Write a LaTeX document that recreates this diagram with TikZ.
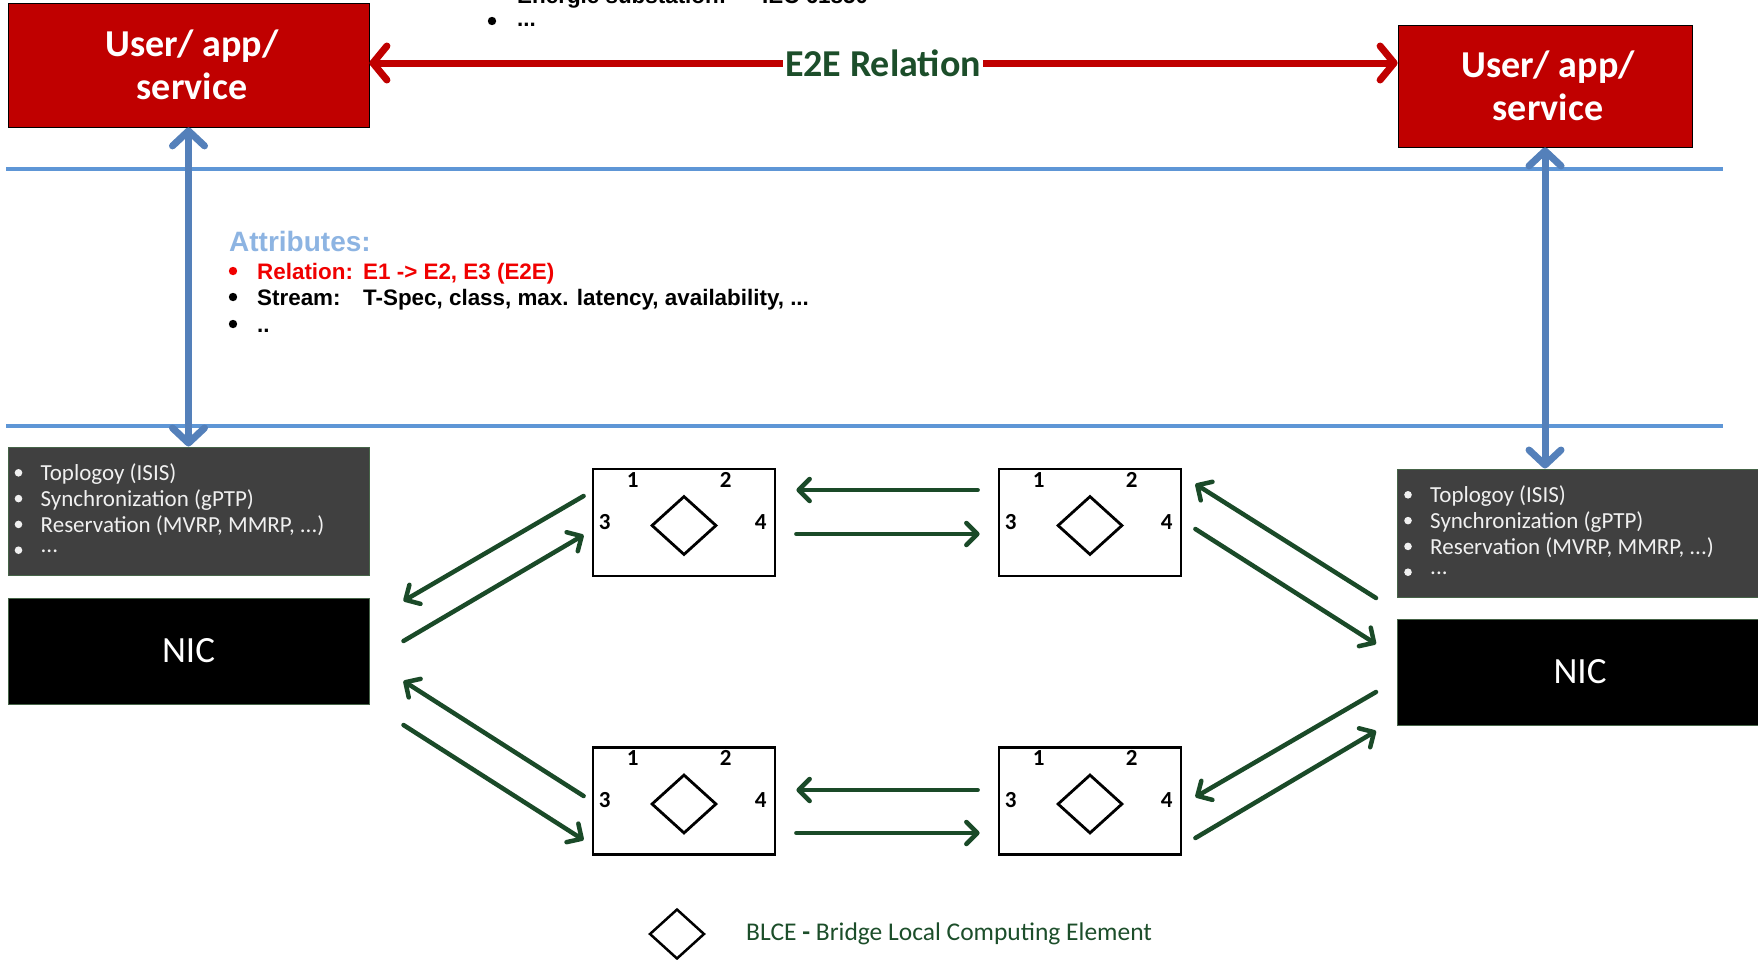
\documentclass[tikz,border=0pt]{standalone}
\usepackage{fontspec}
\setmainfont{Carlito}
\newfontfamily\arialf{Liberation Sans}
\usetikzlibrary{arrows.meta,shapes.geometric,calc}
\definecolor{appred}{RGB}{192,0,0}
\definecolor{flowgreen}{RGB}{26,74,40}
\definecolor{labgreen}{RGB}{28,78,42}
\definecolor{vblue}{RGB}{84,128,186}
\definecolor{hblue}{RGB}{94,150,214}
\definecolor{attrblue}{RGB}{141,180,226}
\definecolor{boxgray}{RGB}{64,64,64}
\definecolor{edgegreen}{RGB}{70,100,72}
\definecolor{relred}{RGB}{240,0,0}
\newcommand\tdots{...}
\begin{document}
\begin{tikzpicture}[x=1pt,y=-1pt,
  appbox/.style={draw=black,line width=0.8pt,fill=appred,text=white,font=\bfseries\fontsize{38pt}{43pt}\selectfont,align=center,inner sep=0pt},
  infobox/.style={draw=edgegreen,line width=1pt,fill=boxgray,inner sep=0pt,minimum width=361pt,minimum height=128pt},
  nicbox/.style={draw=edgegreen,line width=1pt,fill=black,text=white,font=\fontsize{37pt}{40pt}\selectfont,inner sep=0pt,minimum width=361pt,minimum height=106pt},
  bridgebox/.style={draw=black,line width=2.8pt,minimum width=182pt,minimum height=107pt,inner sep=0pt},
  blce/.style={diamond,draw=black,line width=2.8pt,minimum width=65pt,minimum height=59pt,inner sep=0pt},
  portnum/.style={font=\bfseries\fontsize{23pt}{26pt}\selectfont,inner sep=0pt},
  infotext/.style={text=white!94!black,font=\fontsize{23pt}{26pt}\selectfont,inner sep=0pt},
  attrtext/.style={font=\arialf\bfseries\fontsize{22.4pt}{26pt}\selectfont,inner sep=0pt},
  sepline/.style={draw=hblue,line width=3.2pt},
  vlink/.style={draw=vblue,line width=7pt,{Straight Barb[length=15pt,width=32pt,round]}-{Straight Barb[length=15pt,width=32pt,round]}},
  e2elink/.style={draw=appred,line width=7pt,{Straight Barb[length=14pt,width=34pt,round]}-{Straight Barb[length=14pt,width=34pt,round]}},
  flow/.style={draw=flowgreen,line width=4.5pt,line cap=round,-{Straight Barb[length=11pt,width=22pt,round]}}
]
\useasboundingbox (0,0) rectangle (1758,959);

% separator lines
\draw[sepline] (6,169) -- (1723,169);
\draw[sepline] (6,426) -- (1723,426);

% partially visible text at top
\node[attrtext,anchor=base west] (topa) at (517,3) {Energie substation:};
\node[attrtext,anchor=base west] (topb) at (762,3) {IEC 61850};
\fill[black] (492,21) circle (4.2pt);
\node[attrtext,anchor=base west] (topdots) at (517,26) {\tdots};

% application boxes
\node[appbox,minimum width=361pt,minimum height=124pt] (u1) at (188.5,65) {};
\node[appbox,fill=none,draw=none] (u1l) at (192,65) {User/ app/\\service};
\node[appbox,minimum width=294pt,minimum height=122pt] (u2) at (1545,86) {};
\node[appbox,fill=none,draw=none] (u2l) at (1548,86) {User/ app/\\service};

% E2E relation
\coordinate (e2epos) at (883,63);
\draw[e2elink] (u1.east |- e2epos) -- (u2.west |- e2epos);
\node[fill=white,text=labgreen,font=\bfseries\fontsize{38pt}{42pt}\selectfont,inner xsep=2pt,inner ysep=0pt] (e2e) at (e2epos) {E2E Relation};

% info boxes
\node[infobox] (g1) at (188.5,511) {};
\node[infobox] (g2) at (1578,533) {};
\foreach \g in {g1,g2}{
  \foreach \t [count=\i] in {Toplogoy (ISIS),Synchronization (gPTP),{Reservation (MVRP, MMRP, \tdots)},\tdots}{
    \fill[white!94!black] ($(\g.north west)+(11,{25.8*\i+0.5})$) circle (3.8pt);
    \node[infotext,anchor=west] (\g-t\i) at ($(\g.north west)+(33,{25.8*\i+1.5})$) {\t};
  }
}

% NIC boxes
\node[nicbox] (nic1) at (188.5,651) {NIC};
\node[nicbox] (nic2) at (1578,672) {};
\node[text=white,font=\fontsize{37pt}{40pt}\selectfont,inner sep=0pt] (nic2l) at (1580,672) {NIC};

% vertical links
\draw[vlink] (u1.south) -- (g1.north);
\draw[vlink] (u2.south) -- (u2.south |- g2.north);

% attributes
\node[font=\arialf\bfseries\fontsize{28pt}{32pt}\selectfont,text=attrblue,anchor=base west,inner sep=0pt] (attr) at (229,251) {Attributes:};
\fill[relred] (233,271) circle (4.2pt);
\node[attrtext,text=relred,anchor=base west] (ar1) at (257,279) {Relation:};
\node[attrtext,text=relred,anchor=base west] (ar2) at (363,279) {E1 -> E2, E3 (E2E)};
\fill[black] (233,297) circle (4.2pt);
\node[attrtext,anchor=base west] (as1) at (257,305) {Stream:};
\node[attrtext,anchor=base west] (as2) at (363,305) {T-Spec, class, max. latency, availability, \tdots};
\fill[black] (233,324) circle (4.2pt);
\node[attrtext,anchor=base west] (ad) at (257,332) {..};

% bridges
\foreach \n/\x/\y in {b1/684/522.5,b2/1090/522.5,b3/684/801,b4/1090/801}{
  \node[bridgebox] (\n) at (\x,\y) {};
  \node[blce] (\n-d) at ($(\n.center)+(0,3)$) {};
  \node[portnum] (\n-p1) at ($(\n.north west)+(41,12)$) {1};
  \node[portnum] (\n-p2) at ($(\n.north west)+(134,12)$) {2};
  \node[portnum] (\n-p3) at ($(\n.north west)+(13,54)$) {3};
  \node[portnum] (\n-p4) at ($(\n.north west)+(169,54)$) {4};
}

% horizontal flows between bridges
\draw[flow] ($(b2.west)+(-20,-32.5)$) -- ($(b1.east)+(20,-32.5)$);
\draw[flow] ($(b1.east)+(20,11.5)$) -- ($(b2.west)+(-18,11.5)$);
\draw[flow] ($(b4.west)+(-20,-11)$) -- ($(b3.east)+(20,-11)$);
\draw[flow] ($(b3.east)+(20,32)$) -- ($(b4.west)+(-18,32)$);

% diagonal flows left
\draw[flow] ($(b1.west)+(-8,-26.5)$) -- ($(nic1.east)+(34,-50)$);
\draw[flow] ($(nic1.east)+(34,-10)$) -- ($(b1.west)+(-8,12.5)$);
\draw[flow] ($(b3.west)+(-8,-5)$) -- ($(nic1.east)+(34,30)$);
\draw[flow] ($(nic1.east)+(34,74)$) -- ($(b3.west)+(-8,39)$);

% diagonal flows right
\draw[flow] ($(nic2.west)+(-21,-74)$) -- ($(b2.east)+(13,-38.5)$);
\draw[flow] ($(b2.east)+(13,6.5)$) -- ($(nic2.west)+(-21,-28)$);
\draw[flow] ($(nic2.west)+(-21,20)$) -- ($(b4.east)+(13,-4)$);
\draw[flow] ($(b4.east)+(13,37)$) -- ($(nic2.west)+(-21,59)$);

% legend
\node[diamond,draw=black,line width=2.5pt,minimum width=55pt,minimum height=50pt,inner sep=0pt] (legd) at (677,934) {};
\node[anchor=west,text=labgreen,font=\fontsize{25.5pt}{28pt}\selectfont,inner sep=0pt] (legt) at (746,934) {BLCE \textbf{-} Bridge Local Computing Element};
\end{tikzpicture}
\end{document}
